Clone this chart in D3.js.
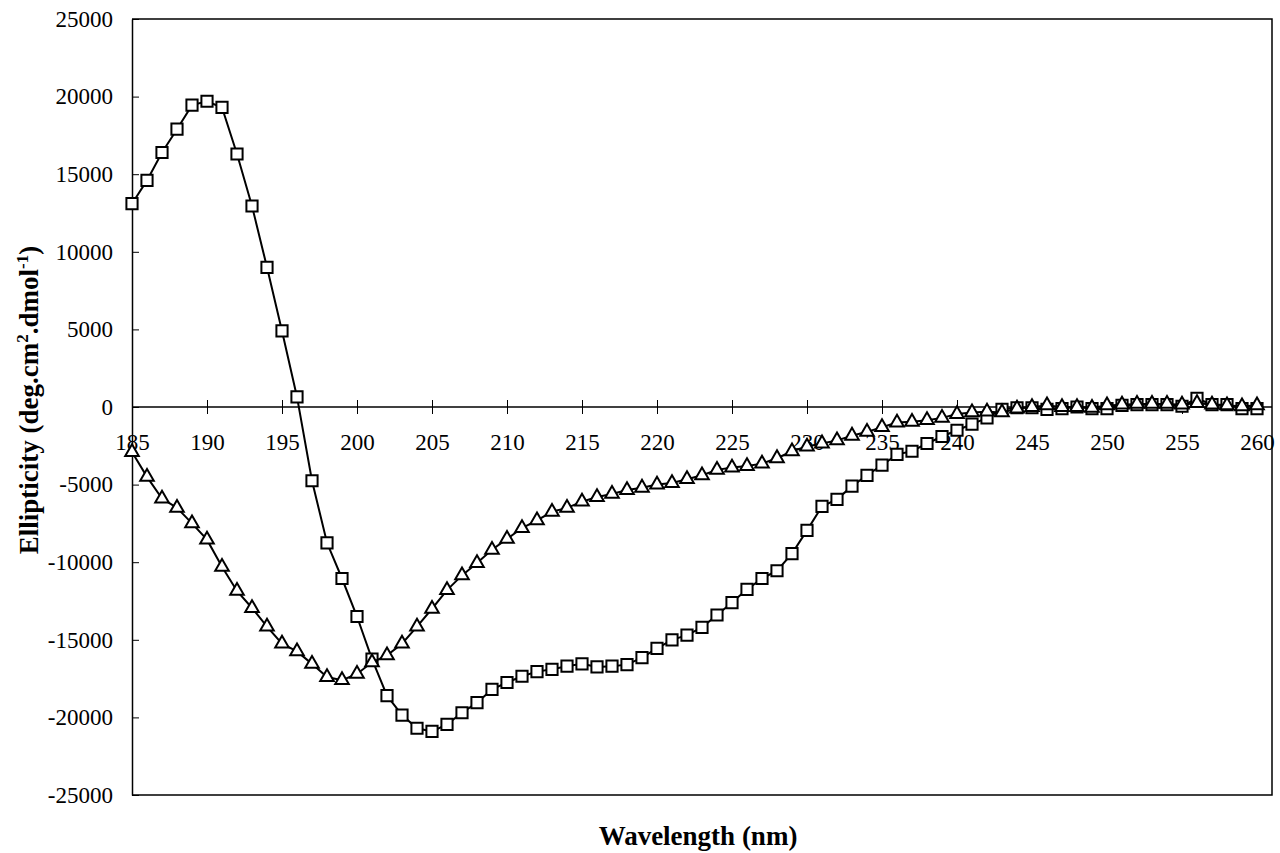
<!DOCTYPE html>
<html lang="en">
    <head>
        <meta charset="utf-8">
        <title>Ellipticity</title>
        <style>
            body { margin: 0; background: #fff; }
            text { font-family: "Liberation Serif", "Times New Roman", serif; fill: #000; }
        </style>
    </head>
    <body>
        <div id="cd_chart"></div>

        <script src="https://d3js.org/d3.v7.js"></script>
	<script>
	// Wavelengths (nm), one point per nm
	var wavelengths = [185, 186, 187, 188, 189, 190, 191, 192, 193, 194, 195, 196, 197, 198, 199,
	   200, 201, 202, 203, 204, 205, 206, 207, 208, 209, 210, 211, 212, 213, 214, 215, 216, 217,
	   218, 219, 220, 221, 222, 223, 224, 225, 226, 227, 228, 229, 230, 231, 232, 233, 234, 235,
	   236, 237, 238, 239, 240, 241, 242, 243, 244, 245, 246, 247, 248, 249, 250, 251, 252, 253,
	   254, 255, 256, 257, 258, 259, 260];

	// Square series
	var squareValues = [13100, 14600, 16400, 17900, 19450, 19700, 19300, 16300, 12950, 9000,
	   4900, 650, -4750, -8750, -11050, -13500, -16250, -18600, -19850, -20700, -20900, -20450,
	   -19700, -19050, -18200, -17750, -17350, -17050, -16900, -16700, -16550, -16750, -16700,
	   -16600, -16150, -15550, -15000, -14700, -14200, -13400, -12600, -11750, -11050, -10550,
	   -9450, -7950, -6400, -5950, -5100, -4400, -3750, -3050, -2850, -2350, -1900, -1500, -1100,
	   -700, -150, -50, -50, -150, -100, 0, -100, -100, 100, 150, 150, 150, 50, 550, 150, 150,
	   -100, -100];

	// Triangle series
	var triangleValues = [-2900, -4500, -5900, -6500, -7500, -8550, -10300, -11850, -12950,
	   -14150, -15250, -15750, -16550, -17400, -17600, -17200, -16450, -16000, -15250, -14150,
	   -13000, -11800, -10850, -10050, -9200, -8500, -7800, -7300, -6750, -6500, -6100, -5800,
	   -5600, -5350, -5200, -5000, -4900, -4650, -4400, -4050, -3900, -3800, -3650, -3300, -2850,
	   -2550, -2350, -2150, -1850, -1600, -1300, -1000, -950, -850, -700, -450, -350, -300, -350,
	   -100, 0, 100, 0, 0, -50, 100, 150, 200, 200, 200, 150, 250, 150, 100, 50, 100];

	// Axis ticks
	var xTicks = [185, 190, 195, 200, 205, 210, 215, 220, 225, 230, 235, 240, 245, 250, 255, 260];
	var yTicks = [-25000, -20000, -15000, -10000, -5000, 0, 5000, 10000, 15000, 20000, 25000];

	var width = 1280,
	   height = 853;

	const svg = d3.select("#cd_chart")
	   .append("svg")
	   .attr("width", width)
	   .attr("height", height);

	// Scales (plot box runs a bit past 260 on the right)
	const x = d3.scaleLinear()
	   .domain([185, 261])
	   .range([132, 1272]);

	const y = d3.scaleLinear()
	   .domain([-25000, 25000])
	   .range([795, 19]);

	// Plain numbers with an ascii hyphen for negatives
	const plain = d => String(d);

	// Plot box: top, right and bottom edges
	svg.append("path")
	   .attr("d", `M${x(185)},${y(25000)}H${x(261)}V${y(-25000)}H${x(185)}`)
	   .attr("fill", "none")
	   .attr("stroke", "black")
	   .attr("stroke-width", 1.5);

	// Y axis with crossing ticks
	const yAxis = svg.append("g")
	   .attr("transform", `translate(${x(185)},0)`)
	   .call(d3.axisLeft(y).tickValues(yTicks).tickFormat(plain)
	      .tickSize(7).tickPadding(12).tickSizeOuter(0));

	yAxis.selectAll(".tick line").attr("x2", 7);
	yAxis.select(".domain").attr("stroke-width", 1.5);
	yAxis.selectAll("text")
	   .style("font-family", "'Liberation Serif', serif")
	   .style("font-size", "23px")
	   .attr("fill", "black");

	// X axis drawn at zero, ticks crossing it
	const xAxis = svg.append("g")
	   .attr("transform", `translate(0,${y(0)})`)
	   .call(d3.axisBottom(x).tickValues(xTicks).tickFormat(plain)
	      .tickSize(7).tickPadding(20).tickSizeOuter(0));

	xAxis.selectAll(".tick line").attr("y1", -7);
	xAxis.select(".domain")
	   .attr("d", `M${x(185)},0H${x(261)}`)
	   .attr("stroke-width", 1.5);
	xAxis.selectAll("text")
	   .style("font-family", "'Liberation Serif', serif")
	   .style("font-size", "23px")
	   .attr("fill", "black");

	// Build point lists from the arrays
	var squarePoints = wavelengths.map((w, i) => ({ w: w, v: squareValues[i] }));
	var trianglePoints = wavelengths.map((w, i) => ({ w: w, v: triangleValues[i] }));

	const line = d3.line()
	   .x(d => x(d.w))
	   .y(d => y(d.v));

	function drawSeries(points, symbol, size) {
	   svg.append("path")
	      .datum(points)
	      .attr("d", line)
	      .attr("fill", "none")
	      .attr("stroke", "black")
	      .attr("stroke-width", 2);

	   svg.append("g")
	      .selectAll("path")
	      .data(points)
	      .join("path")
	      .attr("transform", d => `translate(${x(d.w)},${y(d.v)})`)
	      .attr("d", d3.symbol().type(symbol).size(size))
	      .attr("fill", "white")
	      .attr("stroke", "black")
	      .attr("stroke-width", 2);
	}

	drawSeries(squarePoints, d3.symbolSquare, 125);
	drawSeries(trianglePoints, d3.symbolTriangle, 80);

	// Axis titles
	svg.append("text")
	   .attr("x", 698)
	   .attr("y", 845)
	   .attr("text-anchor", "middle")
	   .style("font-size", "27px")
	   .style("font-weight", "bold")
	   .text("Wavelength (nm)");

	const yTitle = svg.append("text")
	   .attr("transform", `translate(38,400) rotate(-90)`)
	   .attr("text-anchor", "middle")
	   .style("font-size", "27px")
	   .style("font-weight", "bold");

	yTitle.append("tspan").text("Ellipticity (deg.cm");
	yTitle.append("tspan").attr("dy", -10).style("font-size", "17px").text("2");
	yTitle.append("tspan").attr("dy", 10).text(".dmol");
	yTitle.append("tspan").attr("dy", -10).style("font-size", "17px").text("-1");
	yTitle.append("tspan").attr("dy", 10).text(")");
	</script>

    </body>
</html>
